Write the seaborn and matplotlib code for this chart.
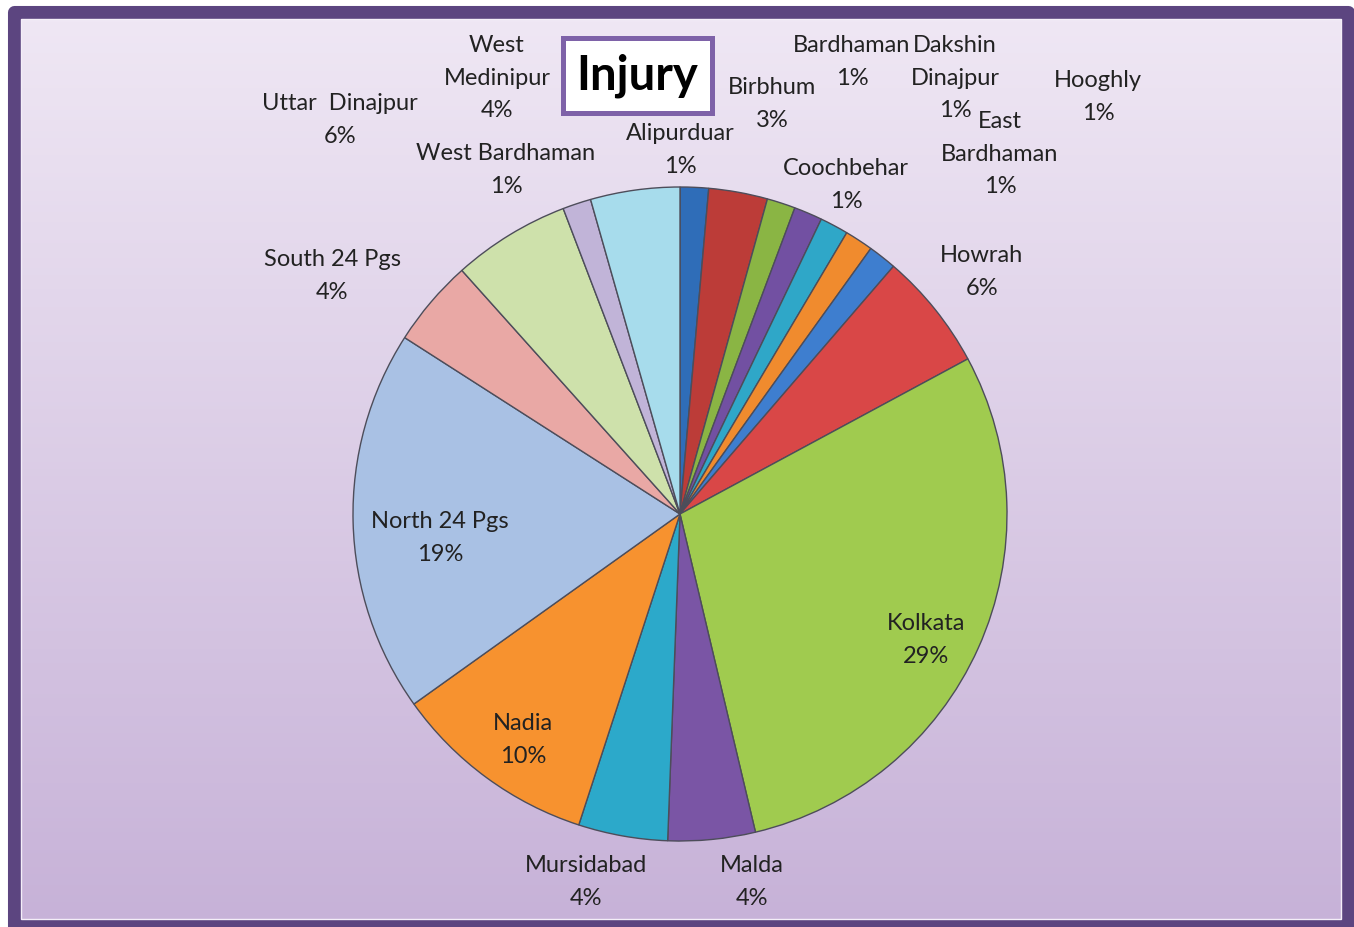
import numpy as np
import seaborn as sns
import matplotlib.pyplot as plt
from matplotlib.patches import Rectangle

# district names (display form) and their share of injury cases, clockwise from 12 o'clock
districts = ['Alipurduar', 'Birbhum', 'Bardhaman', 'Dakshin\nDinajpur', 'Coochbehar',
             'East\nBardhaman', 'Hooghly', 'Howrah', 'Kolkata', 'Malda', 'Mursidabad',
             'Nadia', 'North 24 Pgs', 'South 24 Pgs', 'Uttar  Dinajpur', 'West Bardhaman',
             'West\nMedinipur']
shares = [1.4, 2.9, 1.4, 1.4, 1.4, 1.4, 1.4, 5.8, 29.1, 4.3, 4.4, 10.1, 18.9, 4.3, 5.8, 1.4, 4.4]

slice_colors = ['#2F6DB8', '#BC3C38', '#8AB544', '#7250A2', '#2FA7C8', '#F08B2E',
                '#3E7ECF', '#D94747', '#A0CB4F', '#7A55A5', '#2CA9CA', '#F7922F',
                '#A9C1E4', '#E9A8A5', '#CEE1AB', '#C1B4D8', '#A7DCEC']

# label centres in image pixels (x, y from top)
label_pos = [(680, 150), (772, 104), (852, 62), (955, 78), (846, 185),
             (1000, 154), (1098, 97), (982, 272), (926, 640), (752, 882), (586, 882),
             (523, 740), (440, 538), (332, 276), (340, 120), (506, 170), (497, 78)]

W, H = 1354, 927

sns.set_theme(style='white')
plt.rcParams['font.family'] = ['Lato', 'DejaVu Sans']

fig = plt.figure(figsize=(W / 100, H / 100), dpi=100)
ax = fig.add_axes([0, 0, 1, 1])
ax.set_xlim(0, W)
ax.set_ylim(0, H)
ax.set_aspect('equal')
ax.axis('off')
fig.patch.set_facecolor('white')

# vertical gradient background inside the frame
top_c = np.array([0xEF, 0xE7, 0xF4]) / 255
bot_c = np.array([0xC7, 0xB2, 0xD8]) / 255
t = np.linspace(0, 1, 256)[:, None]
grad = (top_c * (1 - t) + bot_c * t)[:, None, :]
ax.imshow(grad, extent=[20, 1342, H - 920, H - 18], aspect='auto', zorder=0)

# frame
ax.add_patch(Rectangle((13.5, H - 926), 1348 - 13.5, 926 - 11.5, fill=False,
                       ec='#5C4580', lw=9.4, zorder=1, joinstyle='round'))
ax.add_patch(Rectangle((21, H - 919), 1320, 900, fill=False,
                       ec='#F4EEF8', lw=1.0, zorder=1))

wedges, _ = ax.pie(shares, colors=sns.color_palette(slice_colors), startangle=90,
                   counterclock=False, center=(680, H - 514), radius=327,
                   wedgeprops=dict(edgecolor='#4d4d5a', linewidth=1.0))
for w in wedges:
    w.set_zorder(2)
ax.set_xlim(0, W)
ax.set_ylim(0, H)

total = sum(shares)
for name, val, (px, py) in zip(districts, shares, label_pos):
    ax.text(px, H - py, f'{name}\n{round(val / total * 100)}%', ha='center', va='center',
            fontsize=17, color='#222222', linespacing=1.65, zorder=3)

# title in a framed box
ax.add_patch(Rectangle((563, H - 113), 149, 75, fc='white', ec='#7E62A8', lw=3.6, zorder=3))
ax.text(637.5, H - 76, 'Injury', ha='center', va='center', fontsize=34,
        fontweight='bold', color='black', zorder=4)

fig.savefig('out.png', dpi=100)
